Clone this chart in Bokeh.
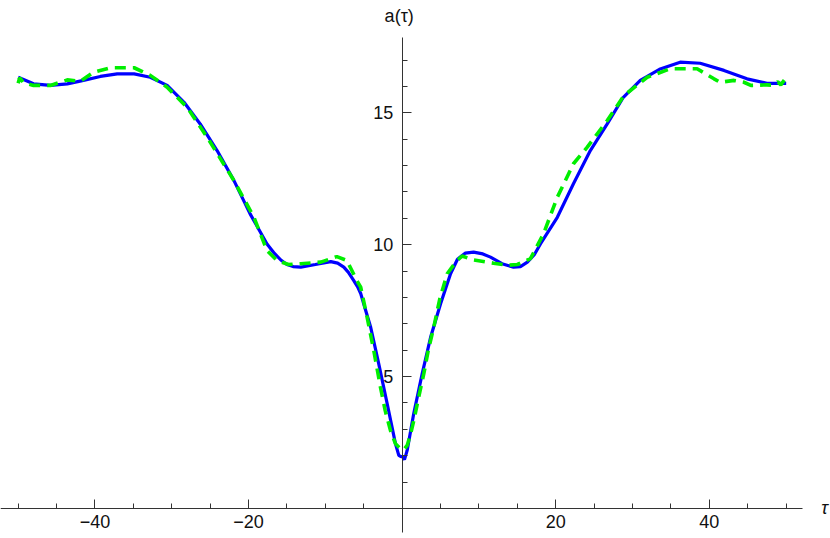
from bokeh.plotting import figure
from bokeh.models import Range1d, FixedTicker, Label
from bokeh.embed import file_html
from bokeh.resources import INLINE

# ---- data ----
tau_blue = [-50, -48, -45.8, -43.6, -41.5, -39.3, -37.1, -34.9, -32.8, -30.6,
            -28.4, -26.3, -24.1, -21.9, -19.8, -17.6, -16.6, -15.8, -15.0, -14.2,
            -13.2, -11.3, -9.3, -8.4, -7.6, -7.0, -6.3, -5.8, -5.4, -4.8,
            -4.1, -3.05, -1.95, -0.87, -0.44, -0.15, 0.05, 0.3, 0.65, 1.5,
            2.6, 3.7, 5.0, 6.3, 7.2, 8.2, 9.3, 10.5, 11.5, 13.0,
            14.5, 15.4, 16.3, 17.2, 18.0, 20.2, 22.3, 24.5, 26.7, 28.8,
            31.0, 33.5, 36.2, 38.8, 41.9, 44.9, 47.5, 50]
a_blue = [16.35, 16.10, 16.04, 16.10, 16.23, 16.38, 16.48, 16.48, 16.35, 16.04,
          15.40, 14.58, 13.57, 12.43, 11.17, 10.03, 9.66, 9.42, 9.25, 9.17,
          9.15, 9.25, 9.36, 9.30, 9.15, 8.95, 8.64, 8.40, 8.15, 7.55,
          6.87, 5.48, 3.97, 2.45, 2.01, 1.96, 1.97, 1.85, 2.2, 3.59,
          5.1, 6.49, 7.76, 8.9, 9.45, 9.68, 9.72, 9.65, 9.53, 9.28,
          9.15, 9.17, 9.34, 9.62, 10.03, 11.04, 12.31, 13.57, 14.58, 15.59,
          16.23, 16.65, 16.92, 16.88, 16.61, 16.29, 16.12, 16.12]

tau_green = [-50, -49.8, -49.3, -48, -45.8, -43.6, -41.9, -40.2, -38, -34.9,
             -32.8, -30.6, -28, -25.4, -21.9, -19.3, -17.6, -16.3, -14.8, -13.2,
             -10.6, -8.5, -7.2, -5.9, -5.4, -4.6, -3.7, -2.83, -2.2, -1.52,
             -0.87, -0.22, 0.2, 0.65, 1.08, 1.51, 2.1, 2.81, 3.4, 4.11,
             4.9, 5.86, 7.0, 7.8, 9.3, 11.9, 13.7, 15.0, 16.7, 18.4,
             20.2, 22.3, 24.1, 26.7, 28.9, 31.9, 34.9, 38.4, 40.6, 41.4,
             43.2, 44.5, 45.4, 47.5, 48.2, 48.9, 49.3, 49.9]
a_green = [16.12, 16.33, 16.14, 16.04, 16.04, 16.25, 16.2, 16.54, 16.71, 16.71,
           16.42, 15.97, 15.21, 14.08, 12.43, 11.04, 9.78, 9.40, 9.25, 9.28,
           9.34, 9.55, 9.40, 8.64, 8.39, 7.3, 5.99, 4.6, 3.7, 2.95,
           2.45, 2.26, 2.22, 2.39, 2.8, 3.33, 4.15, 5.1, 6.0, 6.87,
           7.95, 8.9, 9.35, 9.57, 9.42, 9.30, 9.22, 9.25, 9.47, 10.41,
           11.8, 13.07, 13.7, 14.71, 15.66, 16.35, 16.67, 16.67, 16.29, 16.16,
           16.23, 16.16, 16.04, 16.06, 16.05, 16.18, 16.06, 16.3]

x_major = [-40, -20, 20, 40]
x_minor = [-50, -45, -35, -30, -25, -15, -10, -5, 5, 10, 15, 25, 30, 35, 45, 50]
y_major = [5, 10, 15]
y_minor = [1, 2, 3, 4, 6, 7, 8, 9, 11, 12, 13, 14, 16, 17]
x_tick_labels = {-40: "\u221240", -20: "\u221220", 20: "20", 40: "40"}
x_title = "\u03c4"
y_title = "a(\u03c4)"

# ---- figure ----
W, H = 830, 538
X0, X1 = -52.30, 55.77
Y0, Y1 = -1.14, 19.26

p = figure(width=W, height=H, output_backend="svg", toolbar_location=None,
           x_range=Range1d(X0, X1), y_range=Range1d(Y0, Y1), min_border=0)
p.outline_line_color = None
p.grid.visible = False
p.background_fill_color = "white"
p.border_fill_color = "white"

p.line(tau_blue, a_blue, line_color="#0000ff", line_width=3.2)
p.line(tau_green, a_green, line_color="#00ee00", line_width=3.6,
       line_dash="11 7")

AX = "#333333"
TXT = "#111111"
FONT = "Liberation Sans"
for ax in (p.xaxis[0], p.yaxis[0]):
    ax.fixed_location = 0
    ax.axis_line_color = AX
    ax.axis_line_width = 1
    ax.major_tick_in = 9
    ax.major_tick_out = 0
    ax.minor_tick_in = 5
    ax.minor_tick_out = 0
    ax.major_tick_line_color = AX
    ax.minor_tick_line_color = AX
    ax.major_label_text_font = FONT
    ax.major_label_text_font_size = "18px"
    ax.major_label_text_color = TXT

p.xaxis[0].ticker = FixedTicker(ticks=x_major, minor_ticks=x_minor)
p.xaxis[0].major_label_overrides = x_tick_labels
p.xaxis[0].bounds = (X0, 52.1)
p.xaxis[0].major_label_standoff = 7

p.yaxis[0].ticker = FixedTicker(ticks=y_major, minor_ticks=y_minor)
p.yaxis[0].bounds = (-0.92, 17.85)
p.yaxis[0].major_label_standoff = 9

p.add_layout(Label(x=0, y=18.69, x_offset=-3, text=y_title,
                   text_align="center", text_baseline="middle",
                   text_font=FONT, text_font_size="18px",
                   text_color=TXT))
p.add_layout(Label(x=54.99, y=0, text=x_title, text_font_style="italic",
                   text_align="center", text_baseline="middle",
                   text_font=FONT, text_font_size="18px",
                   text_color=TXT))

open("out.html", "w").write(file_html(p, INLINE))
